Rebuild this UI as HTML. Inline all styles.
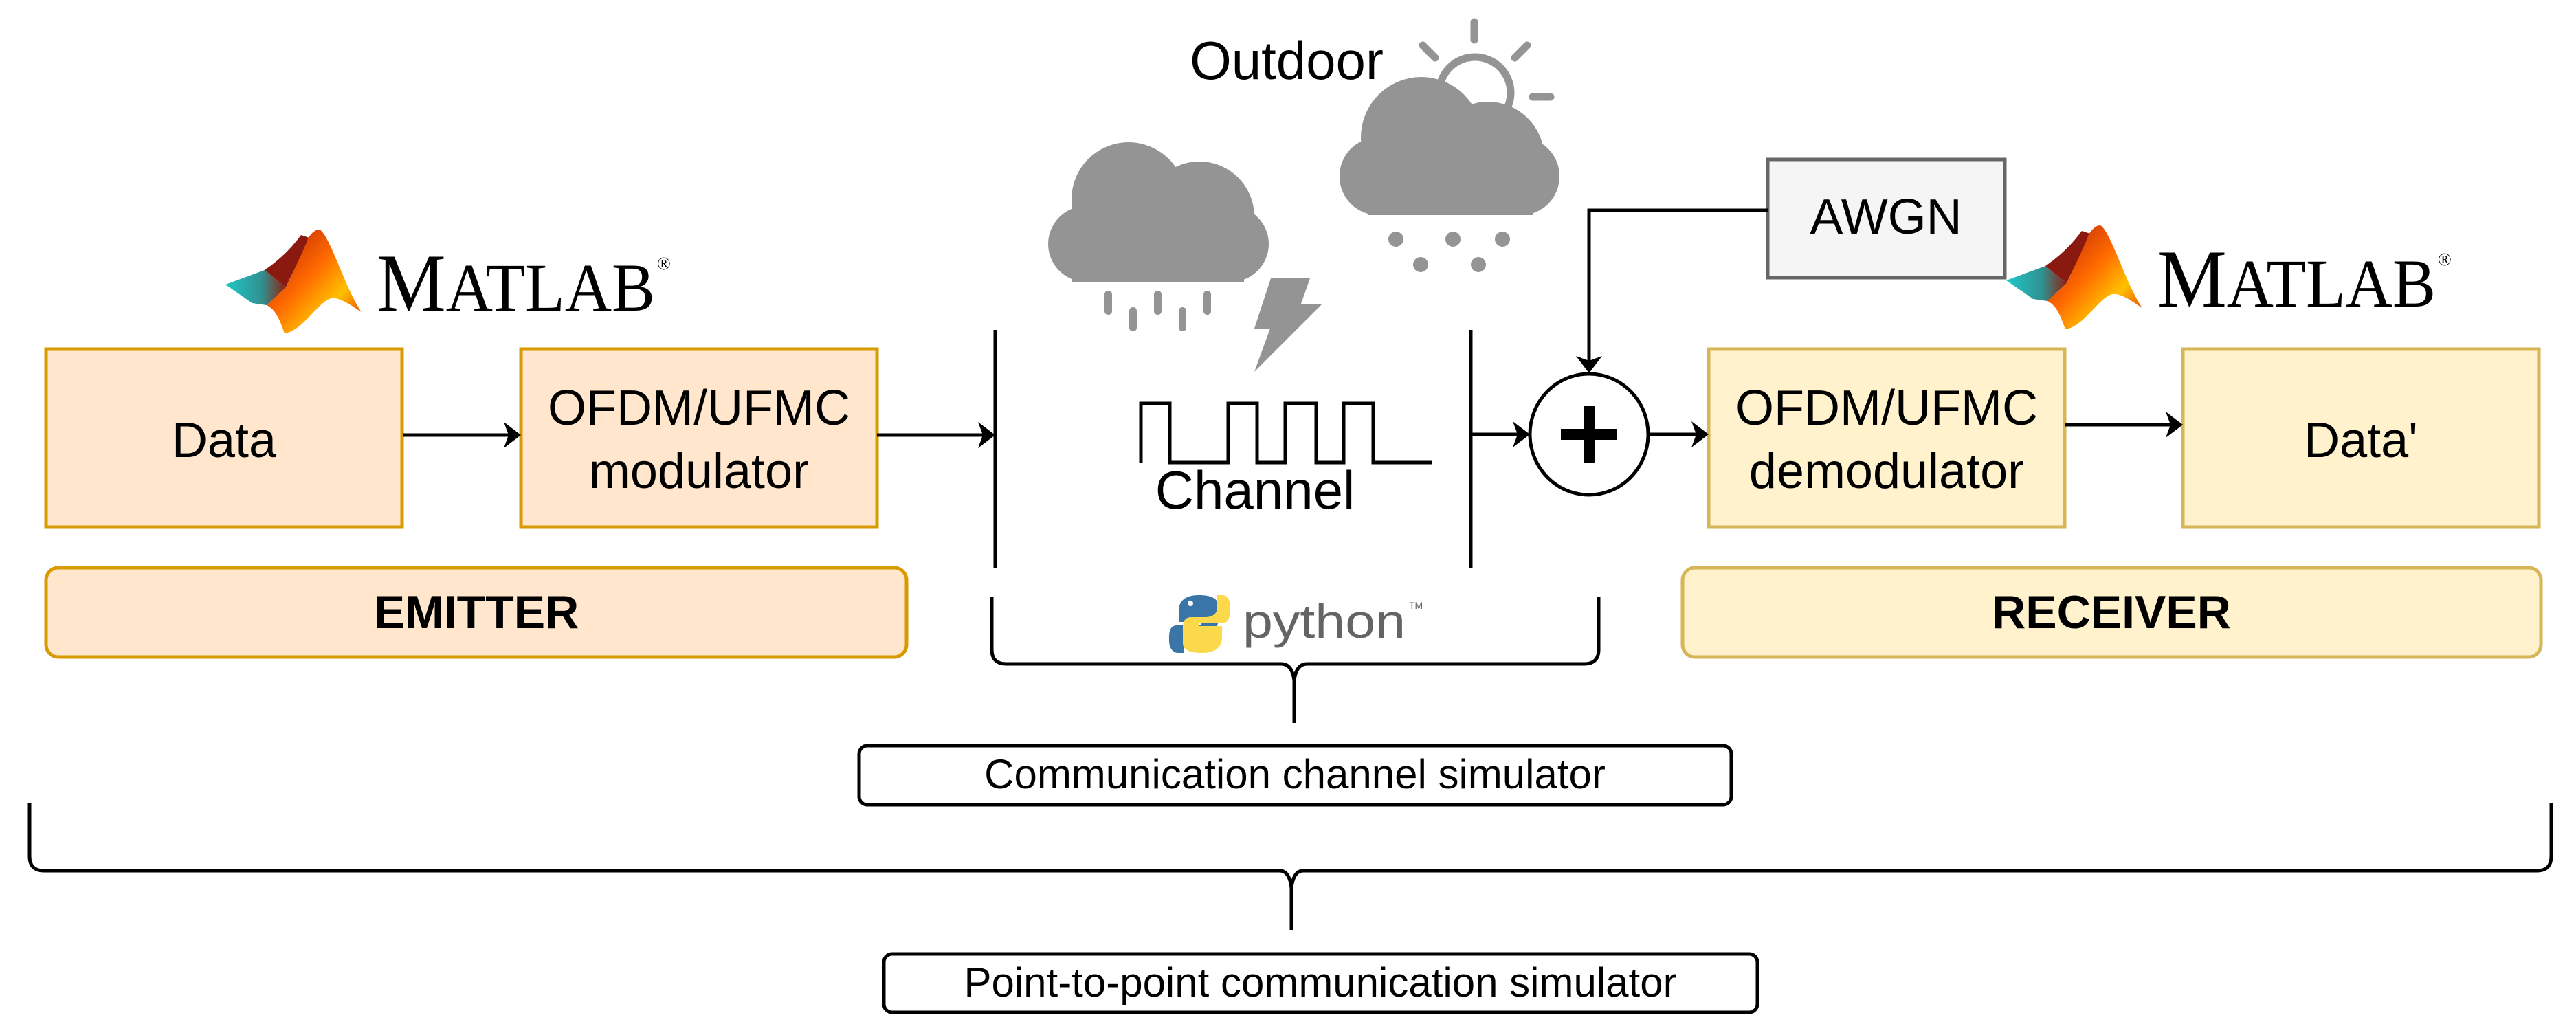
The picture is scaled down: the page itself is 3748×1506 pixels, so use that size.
<!DOCTYPE html>
<html><head><meta charset="utf-8"><style>
html,body{margin:0;padding:0;background:#fff;}
svg{display:block;}
.s{font-family:"Liberation Sans",sans-serif;}
.serif{font-family:"Liberation Serif",serif;}
</style></head><body>
<svg width="3748" height="1506" viewBox="0 0 3748 1506" xmlns="http://www.w3.org/2000/svg">
<defs>
<linearGradient id="mr" x1="0" y1="0" x2="1" y2="1">
<stop offset="0" stop-color="#b01808"/><stop offset="0.45" stop-color="#ff6a00"/><stop offset="0.7" stop-color="#ffc000"/><stop offset="1" stop-color="#e02000"/>
</linearGradient>
<linearGradient id="mc" x1="0" y1="0" x2="1" y2="0">
<stop offset="0" stop-color="#20c8c8"/><stop offset="0.6" stop-color="#309090"/><stop offset="1" stop-color="#902010"/>
</linearGradient>
<g id="matlab">
<path d="M0,82 L57,61 L88,86 L60,112 L39,109 Z" fill="url(#mc)"/>
<path d="M57,61 C80,45 95,30 110,10 L125,15 C105,50 95,70 88,86 Z" fill="#8a1a10"/>
<path d="M137,2 C152,10 175,90 198,122 C182,112 162,96 149,104 C130,115 110,150 86,153 C78,130 72,118 60,112 L88,86 C100,60 115,30 120,15 C126,6 131,2 137,2 Z" fill="url(#mr)"/>
<text class="serif" x="220" y="120" font-size="120" fill="#000" textLength="405" lengthAdjust="spacingAndGlyphs">M<tspan font-size="100">ATLAB</tspan></text>
<text class="serif" x="628" y="60" font-size="26" fill="#000">®</text>
</g>
</defs>

<use href="#matlab" x="328" y="332"/>
<use href="#matlab" x="2919" y="326"/>

<g class="s">
<rect x="67" y="508" width="518" height="259" fill="#ffe6cc" stroke="#d79b00" stroke-width="5"/>
<text x="326" y="665" font-size="72" text-anchor="middle">Data</text>
<rect x="758" y="508" width="518" height="259" fill="#ffe6cc" stroke="#d79b00" stroke-width="5"/>
<text x="1017" y="618" font-size="72" text-anchor="middle">OFDM/UFMC</text>
<text x="1017" y="710" font-size="72" text-anchor="middle">modulator</text>
<rect x="67" y="826" width="1252" height="130" rx="18" fill="#ffe6cc" stroke="#d79b00" stroke-width="5"/>
<text x="693" y="914" font-size="68" font-weight="bold" text-anchor="middle">EMITTER</text>

<rect x="2486" y="508" width="518" height="259" fill="#fff2cc" stroke="#d6b656" stroke-width="5"/>
<text x="2745" y="618" font-size="72" text-anchor="middle">OFDM/UFMC</text>
<text x="2745" y="710" font-size="72" text-anchor="middle">demodulator</text>
<rect x="3176" y="508" width="518" height="259" fill="#fff2cc" stroke="#d6b656" stroke-width="5"/>
<text x="3435" y="665" font-size="72" text-anchor="middle">Data'</text>
<rect x="2448" y="826" width="1249" height="130" rx="18" fill="#fff2cc" stroke="#d6b656" stroke-width="5"/>
<text x="3072" y="914" font-size="68" font-weight="bold" text-anchor="middle">RECEIVER</text>

<rect x="2572" y="232" width="345" height="172" fill="#f5f5f5" stroke="#666" stroke-width="5"/>
<text x="2744" y="340" font-size="72" text-anchor="middle">AWGN</text>
</g>

<g stroke="#000" stroke-width="5" fill="none">
<line x1="586" y1="633" x2="740" y2="633"/>
<line x1="1276" y1="633" x2="1430" y2="633"/>
<line x1="2140" y1="632" x2="2208" y2="632"/>
<line x1="2398" y1="632" x2="2468" y2="632"/>
<line x1="3004" y1="618" x2="3158" y2="618"/>
<polyline points="2572,306 2312,306 2312,525"/>
<line x1="1448" y1="480" x2="1448" y2="826"/>
<line x1="2140" y1="480" x2="2140" y2="826"/>
<ellipse cx="2312" cy="632" rx="86" ry="88"/>
</g>
<g fill="#000">
<path d="M758,633 L733,614 L740,633 L733,652 Z"/>
<path d="M1448,633 L1423,614 L1430,633 L1423,652 Z"/>
<path d="M2226,632 L2201,613 L2208,632 L2201,651 Z"/>
<path d="M2486,632 L2461,613 L2468,632 L2461,651 Z"/>
<path d="M3176,618 L3151,599 L3158,618 L3151,637 Z"/>
<path d="M2312,543 L2293,518 L2312,525 L2331,518 Z"/>
<rect x="2271" y="624" width="82" height="16"/>
<rect x="2304" y="591" width="16" height="82"/>
</g>

<polyline points="1660,673 1660,587 1702,587 1702,673 1787,673 1787,587 1829,587 1829,673 1870,673 1870,587 1915,587 1915,673 1955,673 1955,587 1998,587 1998,673 2083,673" fill="none" stroke="#000" stroke-width="5"/>
<text class="s" x="1826" y="740" font-size="78" text-anchor="middle">Channel</text>
<text class="s" x="1872" y="115" font-size="78" text-anchor="middle">Outdoor</text>

<g fill="#949494">
<circle cx="1642" cy="290" r="83"/>
<circle cx="1745" cy="315" r="80"/>
<rect x="1525" y="300" width="321" height="110" rx="55"/>
<rect x="1560" y="300" width="250" height="110"/>
<rect x="1607" y="423" width="11" height="35" rx="5"/>
<rect x="1643" y="447" width="11" height="35" rx="5"/>
<rect x="1679" y="423" width="11" height="35" rx="5"/>
<rect x="1715" y="447" width="11" height="35" rx="5"/>
<rect x="1751" y="423" width="11" height="35" rx="5"/>
<polygon points="1849,405 1906,405 1893,442 1924,442 1825,541 1848,478 1825,478"/>
</g>

<g fill="none" stroke="#949494" stroke-width="11" stroke-linecap="round">
<circle cx="2146" cy="135" r="52"/>
<line x1="2145" y1="32" x2="2145" y2="58"/>
<line x1="2070" y1="66" x2="2088" y2="84"/>
<line x1="2222" y1="66" x2="2204" y2="84"/>
<line x1="2230" y1="141" x2="2256" y2="141"/>
</g>
<g fill="#949494">
<circle cx="2068" cy="200" r="88"/>
<circle cx="2165" cy="230" r="82"/>
<rect x="1949" y="200" width="320" height="113" rx="56"/>
<rect x="1990" y="200" width="240" height="113"/>
<circle cx="2031" cy="348" r="11"/>
<circle cx="2114" cy="348" r="11"/>
<circle cx="2186" cy="348" r="11"/>
<circle cx="2067" cy="385" r="11"/>
<circle cx="2151" cy="385" r="11"/>
</g>

<g>
<path d="M1745,866 C1720,866 1715,878 1715,890 L1715,905 L1748,905 L1748,910 L1712,910 C1700,910 1701,925 1701,932 C1701,942 1706,950 1714,950 L1722,950 L1722,932 C1722,922 1730,918 1740,918 L1760,918 C1768,918 1772,912 1772,905 L1772,880 C1772,870 1760,866 1745,866 Z" fill="#3a75a8"/>
<path d="M1748,990 C1773,990 1778,978 1778,966 L1778,951 L1745,951 L1745,946 L1781,946 C1789,946 1790,932 1790,924 C1790,914 1786,906 1779,906 L1771,906 L1771,924 C1771,934 1763,938 1753,938 L1733,938 C1725,938 1721,944 1721,951 L1721,976 C1721,986 1733,990 1748,990 Z" fill="#fcd94a" transform="translate(0,-40)"/>
<circle cx="1732" cy="878" r="4" fill="#fff"/>
<text class="s" x="1808" y="928" font-size="70" fill="#646464" textLength="237" lengthAdjust="spacingAndGlyphs">python</text>
<text class="s" x="2050" y="886" font-size="14" fill="#646464">TM</text>
</g>

<g fill="none" stroke="#000" stroke-width="5">
<path d="M1443,868 L1443,945 Q1443,966 1464,966 L1864,966 Q1880,966 1883,990 L1883,1052 M1883,990 Q1886,966 1902,966 L2305,966 Q2326,966 2326,945 L2326,868"/>
<path d="M43,1169 L43,1246 Q43,1267 64,1267 L1862,1267 Q1876,1267 1879,1292 L1879,1353 M1879,1292 Q1882,1267 1896,1267 L3691,1267 Q3712,1267 3712,1246 L3712,1169"/>
</g>
<rect x="1250" y="1085" width="1269" height="86" rx="12" fill="#fff" stroke="#000" stroke-width="5"/>
<text class="s" x="1884" y="1147" font-size="60" text-anchor="middle">Communication channel simulator</text>
<rect x="1286" y="1388" width="1271" height="85" rx="12" fill="#fff" stroke="#000" stroke-width="5"/>
<text class="s" x="1921" y="1450" font-size="60" text-anchor="middle">Point-to-point communication simulator</text>
</svg>
</body></html>
